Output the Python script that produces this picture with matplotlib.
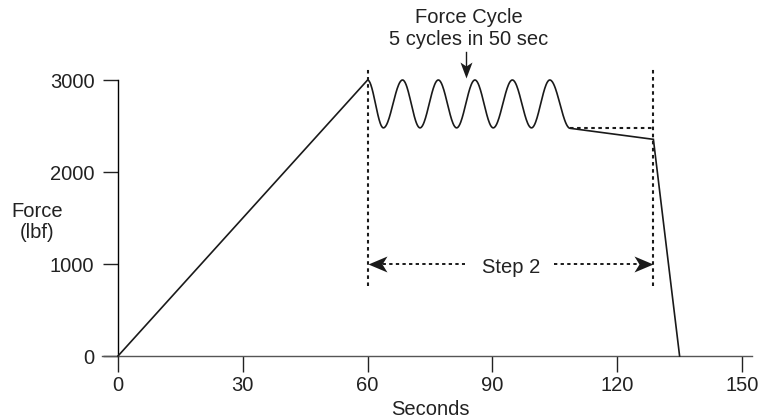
import numpy as np
import matplotlib
matplotlib.use("Agg")
import matplotlib.pyplot as plt
from matplotlib.path import Path

# ---- data -----------------------------------------------------------------
# loading ramp
ramp_t = [0.0, 60.0]
ramp_f = [0.0, 3000.0]

# force cycle: alternating peaks / troughs (sec, lbf)
cycle_t = [60.0, 63.8, 68.4, 72.6, 77.0, 81.4, 85.8, 90.2, 94.8, 99.4, 103.8, 108.7]
cycle_f = [3000, 2480, 3000, 2480, 3000, 2480, 3000, 2480, 3000, 2480, 3000, 2475]

# hold and unload
hold_t = [108.7, 128.7, 135.0]
hold_f = [2475.0, 2355.0, 0.0]

# reference level for the hold segment
ref_t = [108.7, 128.7]
ref_f = [2475.0, 2475.0]

# step 2 boundaries
step_t = [60.0, 128.7]
step_f = [760.0, 3130.0]

x_ticks = [0, 30, 60, 90, 120, 150]
y_ticks = [0, 1000, 2000, 3000]


def smooth_cycle(ts, fs, n=40):
    """Join successive extrema with half-cosine segments."""
    out_t, out_f = [], []
    for i in range(len(ts) - 1):
        s = np.linspace(0, 1, n, endpoint=False)
        w = (1 - np.cos(np.pi * s)) / 2
        out_t.extend(ts[i] + (ts[i + 1] - ts[i]) * s)
        out_f.extend(fs[i] + (fs[i + 1] - fs[i]) * w)
    out_t.append(ts[-1])
    out_f.append(fs[-1])
    return out_t, out_f


def stealth(direction, length, width, notch):
    """Notched arrow head with its tip at the origin."""
    verts = np.array([[0, 0], [-length, width / 2], [-notch, 0],
                      [-length, -width / 2], [0, 0]], float)
    ang = {"right": 0, "left": np.pi, "down": -np.pi / 2, "up": np.pi / 2}[direction]
    rot = np.array([[np.cos(ang), -np.sin(ang)], [np.sin(ang), np.cos(ang)]])
    verts = verts @ rot.T
    codes = [Path.MOVETO, Path.LINETO, Path.LINETO, Path.LINETO, Path.CLOSEPOLY]
    return Path(verts, codes), 2 * length * 0.72


plt.rcParams["font.family"] = ["Liberation Sans", "DejaVu Sans"]
FS = 14.5

fig = plt.figure(figsize=(7.7, 4.19), dpi=100)
W, H = 770, 419
ax = fig.add_axes([102 / W, 63 / H, 650 / W, 276 / H])
ax.set_xlim(-16 / 4.16, 634 / 4.16)
ax.set_ylim(0, 3000)

# main force trace
ct, cf = smooth_cycle(cycle_t, cycle_f)
trace_t = ramp_t + ct[1:] + hold_t[1:]
trace_f = ramp_f + cf[1:] + hold_f[1:]
ax.plot(trace_t, trace_f, color="#1a1a1a", lw=1.2, solid_joinstyle="miter",
        clip_on=False, zorder=3)

dot = (0, (1.7, 1.7))
ax.plot(ref_t, ref_f, color="#1a1a1a", lw=1.5, ls=dot, clip_on=False)
for t in step_t:
    ax.plot([t, t], step_f, color="#1a1a1a", lw=1.5, ls=dot, clip_on=False)

# Step 2 dimension arrow
arrow_y = 1000
ax.plot([62, 83.4], [arrow_y, arrow_y], color="#1a1a1a", lw=1.4, ls=dot)
ax.plot([104.8, 126.5], [arrow_y, arrow_y], color="#1a1a1a", lw=1.4, ls=dot)
mk, ms = stealth("left", 19, 16, 14)
ax.plot([step_t[0]], [arrow_y], marker=mk, ms=ms, color="#1a1a1a", mew=0, clip_on=False)
mk, ms = stealth("right", 19, 16, 14)
ax.plot([step_t[1]], [arrow_y], marker=mk, ms=ms, color="#1a1a1a", mew=0, clip_on=False)
ax.text(94.4, 899, "Step 2", ha="center", va="baseline", fontsize=FS, color="#222222")

# Force Cycle callout
ax.text(84.4, 3620, "Force Cycle", ha="center", va="baseline", fontsize=FS,
        color="#222222", clip_on=False)
ax.text(84.4, 3380, "5 cycles in 50 sec", ha="center", va="baseline", fontsize=FS,
        color="#222222", clip_on=False)
ax.plot([83.6, 83.6], [3308, 3120], color="#1a1a1a", lw=1.0, clip_on=False)
mk, ms = stealth("down", 16, 12, 12)
ax.plot([83.6], [3018], marker=mk, ms=ms, color="#1a1a1a", mew=0, clip_on=False)

# axes styling
for s in ("top", "right"):
    ax.spines[s].set_visible(False)
ax.spines["left"].set_position(("data", 0))
ax.spines["left"].set_bounds(0, 3000)
ax.spines["left"].set_linewidth(1.0)
ax.spines["bottom"].set_linewidth(1.0)
ax.spines["bottom"].set_color("#555555")
ax.set_xticks(x_ticks)
ax.set_yticks(y_ticks)
ax.tick_params(axis="x", direction="out", length=11.2, width=1.0, pad=3,
               labelsize=FS, colors="#222222")
ax.tick_params(axis="y", direction="out", length=11.0, width=1.0, pad=6,
               labelsize=FS, colors="#222222")

fig.text(430 / W, 1 - 415 / H, "Seconds", ha="center", va="baseline",
         fontsize=FS, color="#222222")
fig.text(36.7 / W, 1 - 217.3 / H, "Force", ha="center", va="baseline",
         fontsize=FS, color="#222222")
fig.text(37.5 / W, 1 - 238 / H, "(lbf)", ha="center", va="baseline",
         fontsize=FS, color="#222222")

fig.savefig("out.png", dpi=100)
